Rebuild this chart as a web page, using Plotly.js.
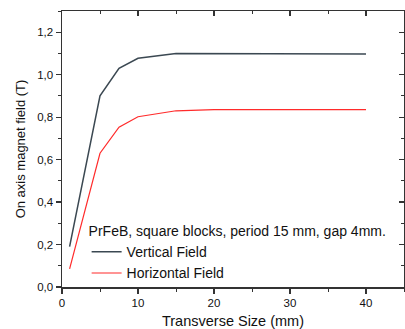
<!DOCTYPE html>
<html>
<head>
<meta charset="utf-8">
<script src="https://cdn.plot.ly/plotly-3.0.1.min.js"></script>
<style>
html,body{margin:0;padding:0;background:#fff;}
#chart{width:405px;height:329px;}
</style>
</head>
<body>
<div id="chart"></div>
<script>
// Data
const transverseSize = [1, 5, 7.5, 10, 15, 20, 30, 40];
const verticalField = [0.19, 0.90, 1.03, 1.077, 1.10, 1.10, 1.10, 1.097];
const horizontalField = [0.085, 0.63, 0.753, 0.802, 0.83, 0.835, 0.835, 0.835];
const seriesNames = ['Vertical Field', 'Horizontal Field'];
const legendTitle = 'PrFeB, square blocks, period 15 mm, gap 4mm.';
const xTitle = 'Transverse Size (mm)';
const yTitle = 'On axis magnet field (T)';

const font = 'Liberation Sans, Arial, sans-serif';
const axisColor = '#333';

const traces = [
  {x: transverseSize, y: verticalField, name: seriesNames[0], mode: 'lines',
   line: {color: '#3b4852', width: 1.5}},
  {x: transverseSize, y: horizontalField, name: seriesNames[1], mode: 'lines',
   line: {color: '#ff2b2b', width: 1.2}},
  // invisible carrier so the mirrored top/right frame axes are drawn
  {x: transverseSize, y: verticalField, mode: 'none', xaxis: 'x2', yaxis: 'y2',
   showlegend: false, hoverinfo: 'skip'}
];

const layout = {
  width: 405, height: 329,
  margin: {l: 62, r: 1, t: 11, b: 42},
  paper_bgcolor: '#fff', plot_bgcolor: '#fff',
  separators: ',.',
  font: {family: font, size: 11.5, color: '#111'},
  showlegend: true,
  legend: {
    x: 0.072, y: 0.25, xanchor: 'left', yanchor: 'top',
    bgcolor: 'rgba(0,0,0,0)',
    font: {family: font, size: 14, color: '#111'},
    title: {text: legendTitle, font: {family: font, size: 14, color: '#111'}},
    tracegroupgap: 0, itemwidth: 30
  },
  xaxis: {
    range: [0, 45], dtick: 10, tick0: 0,
    showline: true, linecolor: axisColor, linewidth: 1.5,
    ticks: 'outside', ticklen: 5, tickwidth: 1.2, tickcolor: axisColor,
    minor: {ticks: 'outside', ticklen: 3, dtick: 5, tickwidth: 1, tickcolor: axisColor},
    showgrid: false, zeroline: false,
    tickfont: {family: font, size: 11.5, color: '#111'},
    title: {text: xTitle, font: {family: font, size: 14.5, color: '#111'}, standoff: 8}
  },
  yaxis: {
    range: [0, 1.3], dtick: 0.2, tick0: 0, tickformat: '.1f',
    showline: true, linecolor: axisColor, linewidth: 1.5,
    ticks: 'outside', ticklen: 5, tickwidth: 1.2, tickcolor: axisColor,
    minor: {ticks: 'outside', ticklen: 3, dtick: 0.1, tickwidth: 1, tickcolor: axisColor},
    showgrid: false, zeroline: false,
    tickfont: {family: font, size: 11.5, color: '#111'},
    title: {text: yTitle, font: {family: font, size: 13, color: '#111'}, standoff: 8}
  },
  xaxis2: {
    overlaying: 'x', side: 'top', range: [0, 45], dtick: 10, tick0: 0,
    showline: true, linecolor: axisColor, linewidth: 1.5,
    ticks: 'inside', ticklen: 5, tickwidth: 1.2, tickcolor: axisColor,
    minor: {ticks: 'inside', ticklen: 3, dtick: 5, tickwidth: 1, tickcolor: axisColor},
    showticklabels: false, showgrid: false, zeroline: false
  },
  yaxis2: {
    overlaying: 'y', side: 'right', range: [0, 1.3], dtick: 0.2, tick0: 0,
    showline: true, linecolor: axisColor, linewidth: 1.5,
    ticks: 'inside', ticklen: 5, tickwidth: 1.2, tickcolor: axisColor,
    minor: {ticks: 'inside', ticklen: 3, dtick: 0.1, tickwidth: 1, tickcolor: axisColor},
    showticklabels: false, showgrid: false, zeroline: false
  }
};

Plotly.newPlot('chart', traces, layout, {staticPlot: true, displayModeBar: false});
</script>
</body>
</html>
